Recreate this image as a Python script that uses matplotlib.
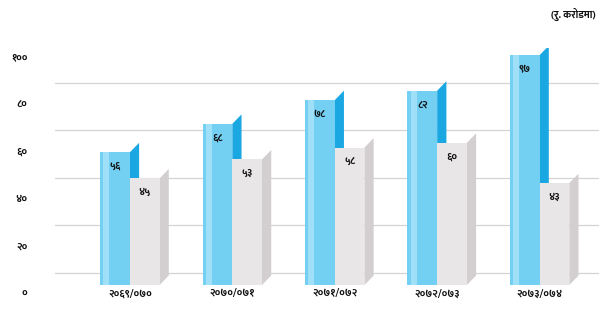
import matplotlib
matplotlib.use('Agg')
import matplotlib.pyplot as plt
import matplotlib.transforms as mtransforms
import numpy as np

plt.rcParams['font.family'] = ['Mukta', 'Noto Sans Devanagari', 'DejaVu Sans']

# ── Data ──────────────────────────────────────────────────────────────────────
years      = ['२०६९/०७०', '२०७०/०७१', '२०७१/०७२', '२०७२/०७३', '२०७३/०७४']
blue_vals  = [56, 68, 78, 82, 97]
gray_vals  = [45, 53, 58, 60, 43]
blue_text  = ['५६', '६८', '७८', '८२', '९७']
gray_text  = ['४५', '५३', '५८', '६०', '४३']
yticks     = [0, 20, 40, 60, 80, 100]
ytick_text = ['०', '२०', '४०', '६०', '८०', '१००']
unit_text  = '(रु. करोडमा)'

# ── Styling ───────────────────────────────────────────────────────────────────
BLUE_FRONT = '#74d0f3'
BLUE_SIDE  = '#1aa7e2'
GRAY_FRONT = '#e9e6e7'
GRAY_SIDE  = '#d3cfd0'
W    = 0.29   # front face width (data units)
D    = 0.09   # depth of side face
RISE = 4.0    # how far the side face rises (value units)

fig = plt.figure(figsize=(5.99, 3.16), dpi=100)
ax = fig.add_axes([0.092, 0.098, 0.908, 0.75])

x = np.arange(len(years))

for vals, off, front, side in [(blue_vals, -W, BLUE_FRONT, BLUE_SIDE),
                               (gray_vals, 0.0, GRAY_FRONT, GRAY_SIDE)]:
    for xi, v in zip(x, vals):
        x0 = xi + off
        # side face (pseudo-3D)
        ax.fill([x0 + W, x0 + W + D, x0 + W + D, x0 + W],
                [0, RISE, v + RISE, v], color=side, lw=0, zorder=2)
    ax.bar(x + off, vals, width=W, align='edge', color=front,
           edgecolor='none', zorder=3)

# highlight stripe on blue fronts
ax.bar(x - W + 0.03, blue_vals, width=0.06, align='edge', color='#9fe0f8',
       edgecolor='none', zorder=3.5)

for xi, v, t in zip(x, blue_vals, blue_text):
    ax.text(xi - W / 2, v - 4, t, ha='center', va='top', fontsize=7.5,
            fontweight='bold', color='#111111', zorder=5)
for xi, v, t in zip(x, gray_vals, gray_text):
    ax.text(xi + W / 2, v - 4, t, ha='center', va='top', fontsize=7.5,
            fontweight='bold', color='#111111', zorder=5)

ax.set_xlim(-0.73, 4.58)
ax.set_ylim(0, 100)
ax.set_yticks(yticks)
ax.set_yticklabels(ytick_text, fontsize=7.5, fontweight='bold', color='#111111')
ax.set_xticks(x)
ax.set_xticklabels(years, fontsize=7.5, fontweight='bold', color='#111111')
ax.tick_params(axis='both', length=0)
ax.tick_params(axis='y', pad=20)
ax.tick_params(axis='x', pad=3)

# labels sit a little lower, and the back-wall gridlines a little higher
shift = mtransforms.ScaledTranslation(0, -6 / 72, fig.dpi_scale_trans)
for lab in ax.get_yticklabels():
    lab.set_transform(lab.get_transform() + shift)

ax.yaxis.grid(True, color='#d4d4d4', linewidth=0.9)
up = mtransforms.ScaledTranslation(0, 9 / 72, fig.dpi_scale_trans)
for gl in ax.get_ygridlines():
    gl.set_transform(gl.get_transform() + up)
ax.set_axisbelow(True)
for s in ax.spines.values():
    s.set_visible(False)

fig.text(0.995, 0.955, unit_text, ha='right', va='center', fontsize=7.5,
         fontweight='bold', color='#111111')

fig.savefig('out.png', dpi=100, facecolor='white')
